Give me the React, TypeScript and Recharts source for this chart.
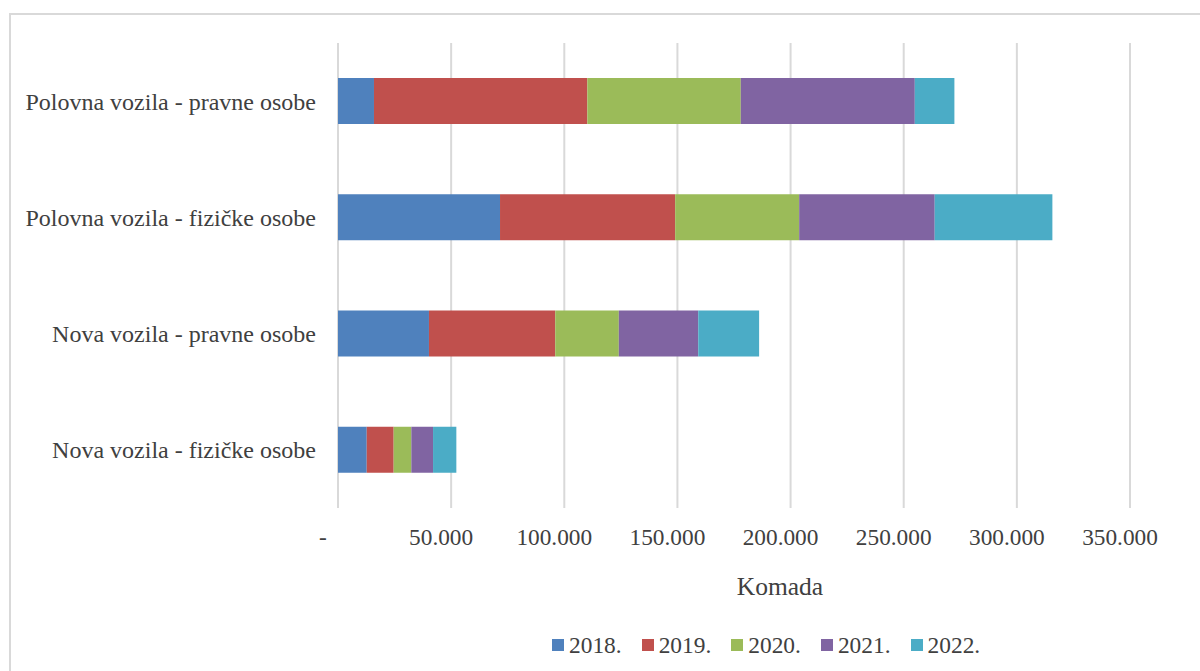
import React from 'react';
import { Bar, BarChart, CartesianGrid, XAxis, YAxis } from 'recharts';

const categories = [
    'Polovna vozila - pravne osobe',
    'Polovna vozila - fizičke osobe',
    'Nova vozila - pravne osobe',
    'Nova vozila - fizičke osobe',
];

const years = ['2018.', '2019.', '2020.', '2021.', '2022.'];
const colors = ['#4F81BD', '#C0504D', '#9BBB59', '#8064A2', '#4BACC6'];

const v2018 = [15900, 71600, 40200, 12700];
const v2019 = [94300, 77400, 55800, 11900];
const v2020 = [67800, 54800, 28100, 7800];
const v2021 = [76900, 59900, 35100, 9600];
const v2022 = [17500, 52000, 26900, 10300];

const xTicks = [0, 50000, 100000, 150000, 200000, 250000, 300000, 350000];

const series = [v2018, v2019, v2020, v2021, v2022];

const data = categories.map((name, i) => {
    const row: { [key: string]: string | number } = { name };
    years.forEach((y, j) => {
        row[y] = series[j][i];
    });
    return row;
});

const FONT = '"Liberation Serif", "Times New Roman", serif';
const TEXT = '#404040';

const fmt = (v: number) =>
    v === 0 ? '-' : String(v).replace(/\B(?=(\d{3})+(?!\d))/g, '.');

const XTick = (props: any) => {
    const { x, y, payload } = props;
    return (
        <text
            x={x}
            y={y}
            dy="0.71em"
            dx={payload.value === 0 ? -15 : -10}
            textAnchor="middle"
            fill={TEXT}
            fontSize={23.3}
            fontFamily={FONT}
        >
            {fmt(payload.value)}
        </text>
    );
};

const AxisTitle = (props: any) => {
    const { viewBox } = props;
    return (
        <text
            x={viewBox.x + viewBox.width / 2 + 46}
            y={viewBox.y + 87}
            textAnchor="middle"
            fill={TEXT}
            fontSize={25.5}
            fontFamily={FONT}
        >
            Komada
        </text>
    );
};

export default function App() {
    return (
        <div
            style={{
                position: 'fixed',
                left: 0,
                top: 0,
                width: 1200,
                height: 671,
                overflow: 'hidden',
                background: '#fff',
            }}
        >
            <div
                style={{
                    position: 'absolute',
                    left: 9,
                    top: 13,
                    width: 1300,
                    height: 800,
                    border: '2px solid #d9d9d9',
                }}
            />
            <div style={{ position: 'absolute', left: 0, top: 0 }}>
                <BarChart
                    width={1200}
                    height={671}
                    data={data}
                    layout="vertical"
                    margin={{ top: 43, right: 70, left: 0, bottom: 0 }}
                    barSize={46}
                >
                    <CartesianGrid
                        horizontal={false}
                        stroke="#d9d9d9"
                        strokeWidth={2}
                    />
                    <XAxis
                        type="number"
                        domain={[0, 350000]}
                        ticks={xTicks}
                        height={163}
                        axisLine={false}
                        tickLine={false}
                        tickSize={6}
                        tickMargin={14}
                        tick={<XTick />}
                        interval={0}
                        label={<AxisTitle />}
                    />
                    <YAxis
                        type="category"
                        dataKey="name"
                        width={338}
                        axisLine={false}
                        tickLine={false}
                        tickSize={6}
                        tickMargin={16}
                        tick={{ fill: TEXT, fontSize: 24, fontFamily: FONT }}
                    />
                    {years.map((y, i) => (
                        <Bar
                            key={y}
                            dataKey={y}
                            stackId="a"
                            fill={colors[i]}
                            isAnimationActive={false}
                        />
                    ))}
                </BarChart>
            </div>
            <div
                style={{
                    position: 'absolute',
                    left: 552,
                    top: 630,
                    height: 30,
                    display: 'flex',
                    alignItems: 'center',
                    fontFamily: FONT,
                    fontSize: 23.4,
                    color: TEXT,
                }}
            >
                {years.map((y, i) => (
                    <div
                        key={y}
                        style={{ display: 'flex', alignItems: 'center', marginRight: 20 }}
                    >
                        <span
                            style={{
                                width: 12,
                                height: 12,
                                background: colors[i],
                                marginRight: 5,
                                display: 'inline-block',
                            }}
                        />
                        <span>{y}</span>
                    </div>
                ))}
            </div>
        </div>
    );
}
